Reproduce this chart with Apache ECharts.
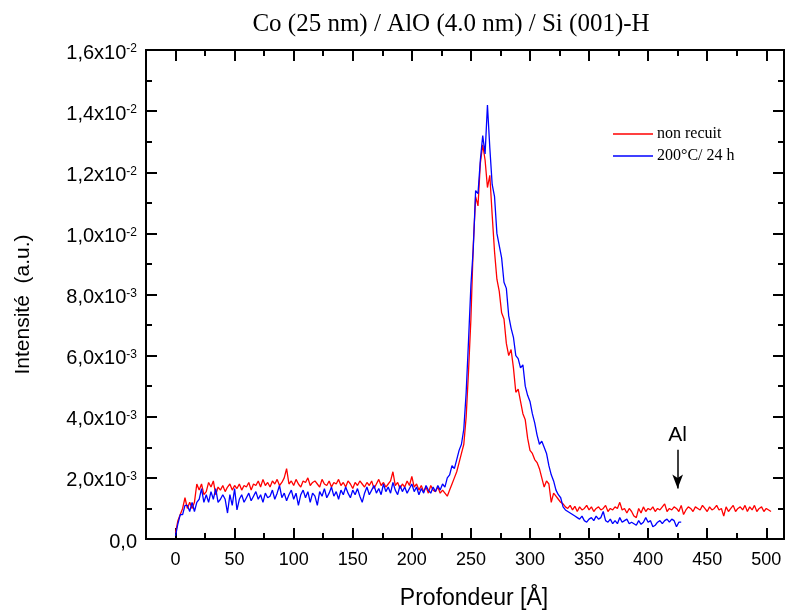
<!DOCTYPE html>
<html><head><meta charset="utf-8">
<script src="https://cdn.jsdelivr.net/npm/echarts@6/dist/echarts.min.js"></script>
<style>html,body{margin:0;padding:0;background:#fff}#c{width:788px;height:615px}</style>
</head><body><div id="c"></div>
<script>
const chartTitle = 'Co (25 nm) / AlO (4.0 nm) / Si (001)-H';
const xName = 'Profondeur [Å]';
const yName = 'Intensité  (a.u.)';
const seriesNames = ['non recuit', '200°C/ 24 h'];
const depthStart = 0, depthStep = 2;
// intensities in units of 1e-3
const redValues = [
0.2,0.6,0.8,1.0,1.35,1.0,1.2,1.0,1.2,1.8,
1.6,1.8,1.45,1.55,1.85,1.7,1.9,1.45,1.7,1.6,
1.75,1.55,1.7,1.8,1.6,1.75,1.65,1.8,1.6,1.75,
1.7,1.85,1.6,1.8,1.75,1.9,1.7,1.95,1.75,1.85,
1.7,1.9,1.8,1.95,1.75,1.85,2.0,2.3,1.8,1.9,
1.75,1.95,1.8,1.7,1.9,1.85,2.0,1.75,1.85,1.9,
1.8,1.7,1.95,1.8,1.75,1.9,1.7,1.85,1.8,1.95,
1.75,1.85,1.7,1.9,1.8,1.65,1.85,1.75,1.9,1.8,
1.7,1.85,1.75,1.9,1.65,1.8,1.95,1.75,1.85,1.7,
1.8,1.9,2.2,1.75,1.85,1.65,1.8,1.7,1.9,1.75,
2.05,1.7,1.8,1.6,1.75,1.55,1.7,1.5,1.75,1.6,
1.55,1.7,1.5,1.6,1.5,1.4,1.6,1.8,2.0,2.2,
2.5,2.8,3.1,4.0,5.5,7.2,9.6,11.2,10.9,12.3,
12.9,12.4,11.5,11.9,10.6,9.4,8.5,8.1,7.4,7.2,
6.4,6.0,6.2,5.6,4.8,4.9,4.5,4.1,3.9,3.3,
2.9,2.8,2.6,2.5,2.3,2.0,1.7,1.9,1.8,1.2,
1.5,1.4,1.3,1.2,1.15,1.05,1.0,1.1,0.95,1.07,
0.9,1.05,0.95,1.0,1.1,0.95,1.05,0.9,1.0,1.05,
0.95,1.0,1.1,0.9,1.0,0.95,1.05,1.0,1.2,0.95,
1.0,0.85,1.0,0.9,0.75,0.7,1.0,0.85,1.05,0.9,
1.0,0.95,1.05,0.9,1.0,0.95,1.05,1.15,0.9,1.0,
0.95,1.05,1.0,0.9,1.1,0.8,0.95,1.05,1.0,0.9,
1.05,1.0,0.95,1.1,1.0,0.9,1.05,0.95,1.0,1.1,
0.95,1.0,0.75,1.05,0.9,1.0,1.1,0.9,1.0,1.05,
0.95,1.1,0.9,1.05,0.95,1.1,0.9,1.0,1.05,0.9,
1.0,0.95,0.9
];
const blueValues = [
0.1,0.5,0.8,0.8,1.1,1.1,0.9,1.2,0.9,1.2,
1.3,1.65,1.2,1.45,1.2,1.55,1.3,1.65,1.2,1.3,
1.45,1.3,0.85,1.45,1.1,1.65,0.95,1.3,1.45,1.2,
1.35,1.5,1.25,1.4,1.55,1.3,1.45,1.2,1.5,1.35,
1.4,1.6,1.3,1.5,1.75,1.35,1.5,1.25,1.45,1.6,
1.3,1.5,1.1,1.45,1.6,1.35,1.55,1.2,1.5,1.4,
1.1,1.55,1.4,1.65,1.35,1.5,1.7,1.4,1.55,1.3,
1.6,1.45,1.7,1.5,1.35,1.6,1.45,1.65,1.4,1.2,
1.5,1.7,1.45,1.6,1.75,1.5,1.65,1.45,1.8,1.55,
1.7,1.5,1.85,1.6,1.45,1.75,1.55,1.7,1.5,1.65,
1.8,1.55,1.7,1.45,1.65,1.5,1.75,1.6,1.5,1.7,
1.55,1.75,1.6,1.8,1.7,2.0,2.1,2.4,2.3,2.6,
2.9,3.1,3.6,4.8,6.5,8.3,9.5,11.4,11.3,12.4,
13.2,12.6,14.2,12.8,11.6,11.2,10.0,9.6,9.2,8.4,
8.2,7.3,6.9,6.6,6.0,5.9,5.6,5.7,5.0,4.7,
4.5,4.1,3.8,3.4,3.1,3.2,3.0,2.8,2.4,2.1,
1.9,1.6,1.45,1.35,1.05,0.95,0.9,0.85,0.8,0.75,
0.7,0.65,0.75,0.6,0.55,0.65,0.7,0.6,0.75,0.65,
0.7,0.9,0.6,0.55,0.65,0.5,0.6,0.5,0.7,0.55,
0.6,0.65,0.5,0.55,0.5,0.45,0.6,0.48,0.55,0.7,
0.55,0.6,0.4,0.45,0.55,0.6,0.5,0.6,0.65,0.55,
0.65,0.6,0.4,0.55,0.55
];
const xMajorTicks = [0,50,100,150,200,250,300,350,400,450,500];
const xMinorTicks = [25,75,125,175,225,275,325,375,425,475];
const yTickValues = [0,2,4,6,8,10,12,14,16];
const yTickMantissa = ['0,0','2,0x10','4,0x10','6,0x10','8,0x10','1,0x10','1,2x10','1,4x10','1,6x10'];
const yTickExponent = ['','-3','-3','-3','-3','-2','-2','-2','-2'];
const arrowDepth = 425, arrowFrom = 2.92, arrowTo = 1.65, arrowText = 'Al';

const toPairs = vals => vals.map((v, i) => [depthStart + i * depthStep, v]);

const chart = echarts.init(document.getElementById('c'));
const axisLine = {show: true, onZero: false, lineStyle: {color: '#000', width: 2}};
const X_MIN = -25, X_MAX = 515;
function xAx(pos, ticks, len, labels) {
  return {
    type: 'value', position: pos, min: X_MIN, max: X_MAX,
    axisLine: axisLine,
    axisTick: {show: true, inside: true, length: len, lineStyle: {color: '#000', width: 2}, customValues: ticks},
    axisLabel: labels ? {show: true, customValues: ticks, fontFamily: 'Liberation Sans', fontSize: 18, color: '#000', margin: 12} : {show: false},
    splitLine: {show: false}
  };
}
function yAx(pos, labels) {
  return {
    type: 'value', position: pos, min: 0, max: 16, interval: 2,
    axisLine: axisLine,
    axisTick: {show: true, inside: true, length: 11, lineStyle: {color: '#000', width: 2}},
    minorTick: {show: true, splitNumber: 2, length: 6, lineStyle: {color: '#000', width: 2}},
    axisLabel: labels ? {
      show: true, margin: 9, padding: [6, 0, 0, 0],
      formatter: v => {
        const i = yTickValues.indexOf(v);
        return yTickExponent[i] ? '{m|' + yTickMantissa[i] + '}{s|' + yTickExponent[i] + '}' : '{m|' + yTickMantissa[i] + '}';
      },
      rich: {
        m: {fontFamily: 'Liberation Sans', fontSize: 20, color: '#000', lineHeight: 20},
        s: {fontFamily: 'Liberation Sans', fontSize: 12, color: '#000', verticalAlign: 'top', lineHeight: 12, padding: [0,0,8,0]}
      }
    } : {show: false},
    splitLine: {show: false}, minorSplitLine: {show: false}
  };
}
const xa0 = xAx('bottom', xMajorTicks, 11, true);
xa0.name = xName; xa0.nameLocation = 'middle'; xa0.nameGap = 48;
xa0.nameTextStyle = {fontFamily: 'Liberation Sans', fontSize: 23, color: '#000', padding: [0,0,0,18]};
const ya0 = yAx('left', true);
ya0.name = yName; ya0.nameLocation = 'middle'; ya0.nameGap = 112; ya0.nameRotate = 90;
ya0.nameTextStyle = {fontFamily: 'Liberation Sans', fontSize: 21, color: '#000', padding: [0,20,0,0]};

chart.setOption({
  animation: false,
  backgroundColor: '#fff',
  title: {text: chartTitle, left: 446, top: 7, textAlign: 'center',
    textStyle: {fontFamily: 'Liberation Serif', fontWeight: 'normal', fontSize: 25, color: '#000'}},
  legend: {left: 613, top: 126, padding: 0, orient: 'vertical', itemWidth: 40, itemHeight: 1.5, itemGap: 6, icon: 'rect',
    data: seriesNames,
    textStyle: {fontFamily: 'Liberation Serif', fontSize: 16, color: '#000', padding: [0,0,0,-1], lineHeight: 16}},
  grid: {left: 146, right: 4, top: 50, bottom: 72, containLabel: false},
  xAxis: [xa0, xAx('top', xMajorTicks, 11, false), xAx('bottom', xMinorTicks, 6, false), xAx('top', xMinorTicks, 6, false)],
  yAxis: [ya0, yAx('right', false)],
  series: [
    {name: seriesNames[0], type: 'line', data: toPairs(redValues), showSymbol: false, symbol: 'none',
      color: '#ff0000', lineStyle: {width: 1.3, color: '#ff0000'},
      markLine: {silent: true, symbol: ['none', 'arrow'], symbolSize: [8, 14],
        lineStyle: {color: '#000', width: 1.5, type: 'solid'},
        label: {show: true, position: 'start', formatter: arrowText, fontFamily: 'Liberation Sans', fontSize: 21, color: '#000', distance: 4},
        data: [[{coord: [arrowDepth, arrowFrom]}, {coord: [arrowDepth, arrowTo]}]]}},
    {name: seriesNames[1], type: 'line', data: toPairs(blueValues), showSymbol: false, symbol: 'none',
      color: '#0000ff', lineStyle: {width: 1.3, color: '#0000ff'}}
  ]
});
</script></body></html>
